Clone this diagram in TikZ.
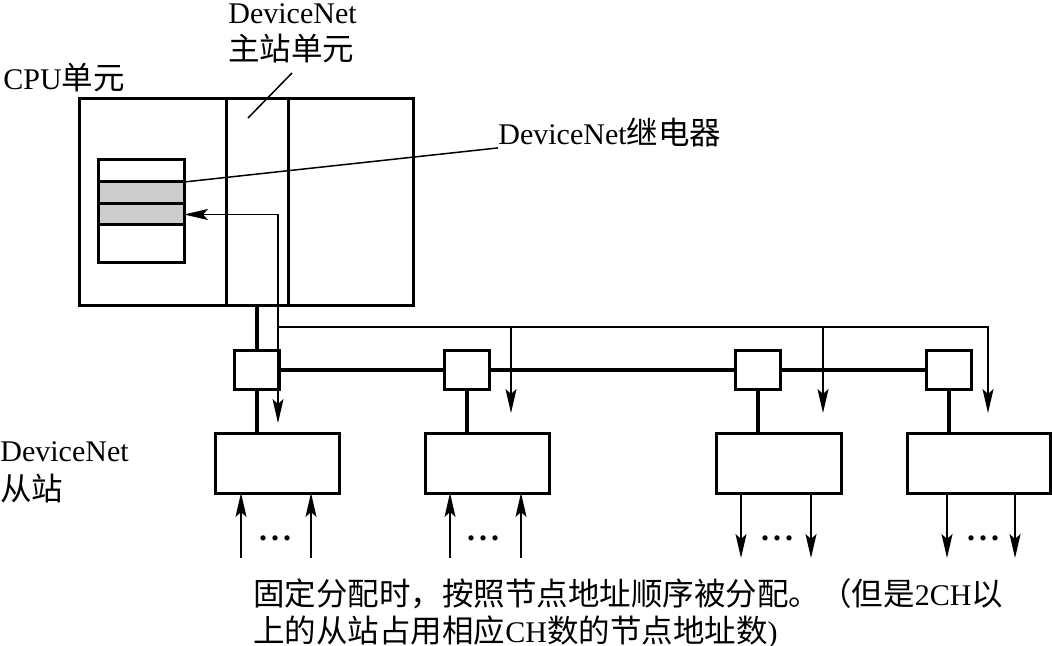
\documentclass[tikz,border=0pt]{standalone}
\usepackage{fontspec}
\setmainfont{Liberation Serif}
\newfontfamily\cjk[Scale=1.05]{Noto Sans CJK SC}
\usetikzlibrary{calc, positioning, arrows.meta}

\begin{document}
\begin{tikzpicture}[x=0.5pt, y=-0.5pt,
        font=\fontsize{15}{18.5}\selectfont,
        unit/.style={draw, line width=1.5pt, rectangle, inner sep=0pt, outer sep=0pt},
        row/.style={unit, minimum width=43pt},
        tap/.style={unit, fill=white, minimum width=22.5pt, minimum height=19.5pt},
        slave/.style={unit, minimum height=30pt},
        lbl/.style={inner sep=0pt, anchor=base west},
        dotsx/.style={inner sep=0pt, font=\fontsize{16}{16}\selectfont\bfseries},
        trunk/.style={line width=2pt},
        wire/.style={line width=0.75pt},
        sig/.style={wire, -{Stealth[length=12pt, width=5.5pt, inset=2.5pt]}}]
        \useasboundingbox (0,0) rectangle (1052,646);

        % CPU unit with master unit
        \node[unit, minimum width=167pt, minimum height=103pt](cpu) at (246,202){};
        \node[unit, minimum width=31pt, minimum height=103pt](master) at (257,202){};

        \node[row, minimum height=11pt](relay1) at (141,171){};
        \node[row, fill=gray!40, minimum height=11pt](relay2)[below = 0pt of relay1]{};
        \node[row, fill=gray!40, minimum height=10.5pt](relay3)[below = 0pt of relay2]{};
        \node[row, minimum height=19pt](relay4)[below = 0pt of relay3]{};

        % taps and slaves
        \node[tap](tap1) at (256.5,369.5){};
        \node[tap](tap2)[right = 82.5pt of tap1]{};
        \node[tap](tap3)[right = 123pt of tap2]{};
        \node[tap](tap4)[right = 73pt of tap3]{};

        \node[slave, minimum width=62pt](s1) at (277,463){};
        \node[slave, minimum width=62pt](s2) at (487,463){};
        \node[slave, minimum width=62.5pt](s3) at (778.5,463){};
        \node[slave, minimum width=71.5pt](s4) at (978.5,463){};

        \draw[trunk] (cpu.south -| tap1) -- (tap1.north);
        \draw[trunk] (tap1.east) -- (tap2.west) (tap2.east) -- (tap3.west) (tap3.east) -- (tap4.west);
        \foreach \i in {1,...,4}
            \draw[trunk] (tap\i.south) -- (tap\i.south |- s\i.north);

        % data flow
        \coordinate (bus) at (278,327);
        \coordinate (d2) at (511,327);
        \coordinate (d3) at (823,327);
        \coordinate (d4) at (988,327);

        \draw[sig] (bus) |- (relay3.east);
        \draw[sig, shorten >=5pt] (bus) -- (bus |- s1.north);
        \draw[sig, shorten >=10pt] (bus) -- (d4) -- (d4 |- s4.north);
        \draw[sig, shorten >=10pt] (d2) -- (d2 |- s2.north);
        \draw[sig, shorten >=10pt] (d3) -- (d3 |- s3.north);

        \foreach \s/\a/\b in {s1/-36/34, s2/-37/34}{
            \draw[sig] ($(\s.south)+(\a,65)$) -- ($(\s.south)+(\a,0)$);
            \draw[sig] ($(\s.south)+(\b,65)$) -- ($(\s.south)+(\b,0)$);
        }
        \foreach \s/\a/\b in {s3/-37.5/32.5, s4/-31.5/36.5}{
            \draw[sig] ($(\s.south)+(\a,0)$) -- ($(\s.south)+(\a,65)$);
            \draw[sig] ($(\s.south)+(\b,0)$) -- ($(\s.south)+(\b,65)$);
        }
        \node[dotsx](dots1) at ($(s1.south)+(-2,45)$){.\hspace{2pt}.\hspace{2pt}.};
        \node[dotsx](dots2) at ($(s2.south)+(-4,45)$){.\hspace{2pt}.\hspace{2pt}.};
        \node[dotsx](dots3) at ($(s3.south)+(-1.5,45)$){.\hspace{2pt}.\hspace{2pt}.};
        \node[dotsx](dots4) at ($(s4.south)+(4.5,45)$){.\hspace{2pt}.\hspace{2pt}.};

        % labels
        \node[lbl](cpulbl) at (3,90){CPU{\cjk 单元}};
        \node[lbl, align=left, anchor=north west](masterlbl) at (228,3){DeviceNet\\{\cjk 主站单元}};
        \node[lbl](relaylbl) at (498,145){DeviceNet{\cjk 继电器}};
        \node[lbl, align=left, anchor=north west, font=\fontsize{15}{19.5}\selectfont](slavelbl) at (0,441){DeviceNet\\{\cjk 从站}};
        \node[lbl, align=left, anchor=north west](note) at (253,578){{\cjk 固定分配时，按照节点地址顺序被分配。（但是}2CH{\cjk 以}\\{\cjk 上的从站占用相应}CH{\cjk 数的节点地址数})};

        \coordinate (mpt) at (248,118);
        \coordinate (mtip) at (292,73);
        \draw[wire] (mpt) -- (mtip);
        \draw[wire] (relay2.north east) -- (relaylbl.south west);
    \end{tikzpicture}
\end{document}
